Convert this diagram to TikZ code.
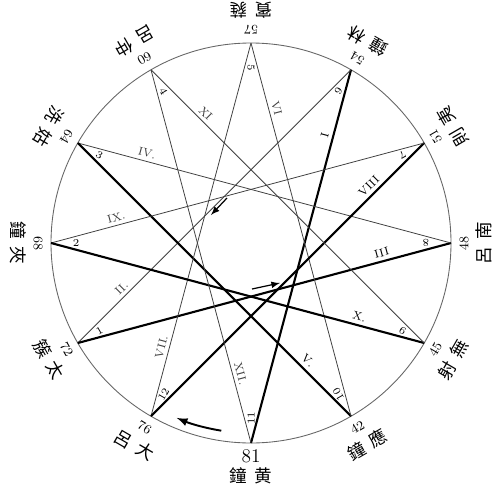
\documentclass[tikz,border=0pt]{standalone}
\usepackage{fontspec}
\newfontfamily\cjk{Noto Sans CJK TC}
\usetikzlibrary{arrows}

\tikzset{
  down chord/.style={line width=1.2pt},
  up chord/.style={line width=0.45pt, black!75},
  vnum/.style={font=\fontsize{6}{7}\selectfont, inner sep=0pt},
  roman/.style={font=\fontsize{6.5}{7}\selectfont, inner sep=2pt, sloped, pos=0.82, auto},
  pnum/.style={font=\fontsize{7.5}{8}\selectfont, inner sep=0pt},
  pname/.style={font=\cjk\fontsize{10}{11}\selectfont, inner sep=0pt},
  sense/.style={-latex, line width=0.7pt},
}

\begin{document}
\begin{tikzpicture}
  \useasboundingbox (-5.02,-5.04) rectangle (4.98,4.86);
  \draw[black!60, line width=0.5pt] (0,0) circle (4);
  % the twelve pipes, clockwise from the top
  \foreach \len/\ang/\a/\b/\k in {57/90/賓/蕤/5, 54/60/鐘/林/6, 51/30/則/夷/7,
      48/0/呂/南/8, 45/-30/射/無/9, 42/-60/鐘/應/10, 81/-90/鐘/黄/11,
      76/-120/呂/大/12, 72/-150/簇/太/1, 68/180/鐘/夾/2, 64/150/洗/姑/3,
      60/120/呂/仲/4}{
    \coordinate (p\len) at (\ang:4);
    \node[pnum, rotate=\ang+90] (n\len) at (\ang:4.26)
      {\ifnum\len=81\relax\fontsize{11}{12}\selectfont\fi\len};
    \node[pname, rotate=\ang+90] (t\len) at (\ang:4.66) {\a\hspace{.4em}\b};
    \node[vnum, rotate=\ang+180] (k\len) at (\ang:3.5) {\k};
  }
  % the cycle of fifths
  \path (p81) edge[down chord] node[roman] {I} (p54)
        (p54) edge[up chord] node[roman] {II.} (p72)
        (p72) edge[down chord] node[roman] {III} (p48)
        (p48) edge[up chord] node[roman] {IV.} (p64)
        (p64) edge[down chord] node[roman] {V.} (p42)
        (p42) edge[up chord] node[roman] {VI} (p57)
        (p57) edge[up chord] node[roman] {VII.} (p76)
        (p76) edge[down chord] node[roman] {VIII} (p51)
        (p51) edge[up chord] node[roman] {IX.} (p68)
        (p68) edge[down chord] node[roman] {X.} (p45)
        (p45) edge[up chord] node[roman] {XI} (p60)
        (p60) edge[up chord] node[roman] {XII.} (p81);
  % direction marks
  \coordinate (s1) at (-0.48,0.90);
  \coordinate (e1) at (-0.80,0.56);
  \coordinate (s2) at (0.02,-0.92);
  \coordinate (e2) at (0.58,-0.80);
  \coordinate (s3) at (-99:3.8);
  \draw[sense] (s1) -- (e1);
  \draw[sense] (s2) -- (e2);
  \draw[sense, line width=1.1pt] (s3) arc[start angle=-99, end angle=-113, radius=3.8];
\end{tikzpicture}
\end{document}
